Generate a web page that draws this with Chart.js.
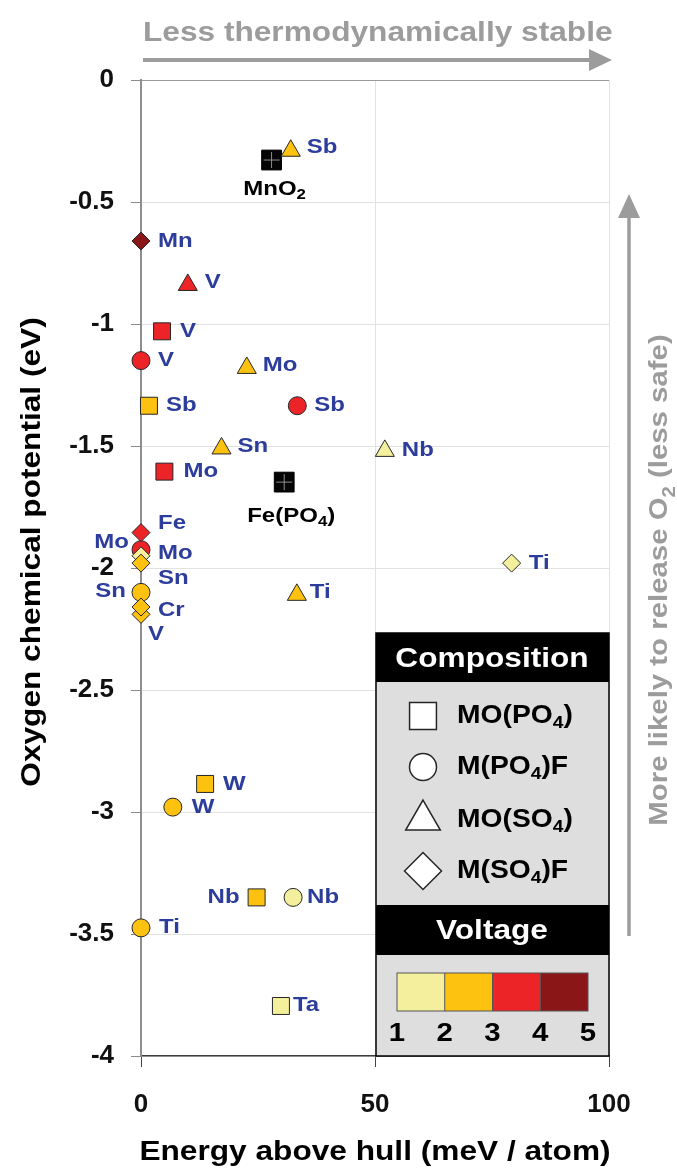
<!DOCTYPE html>
<html>
<head>
<meta charset="utf-8">
<script src="https://cdn.jsdelivr.net/npm/chart.js@4.4.1/dist/chart.umd.min.js"></script>
<style>
  html, body { margin: 0; padding: 0; background: #fff; }
  canvas { display: block; }
</style>
</head>
<body>
<canvas id="chart" width="677" height="1171"></canvas>
<script>
// Cathode candidates: substituted metal, energy above hull (meV/atom),
// oxygen chemical potential (eV), composition family and voltage band (lower bound, V).
const elements = [
  'Mn', 'Fe', 'Mo', 'Sn', 'V', 'Cr', 'Ti',          // M(SO4)F
  'Sb', 'V', 'Mo', 'Sn', 'Nb', 'Ti',                // MO(SO4)
  'V', 'Sb', 'Mo', 'Sn', 'W', 'Nb', 'Ti',           // M(PO4)F
  'V', 'Sb', 'Mo', 'W', 'Nb', 'Ta'                  // MO(PO4)
];
const hullEnergy = [
  0, 0, 0, 0, 0, 0, 79.2,
  32.0, 10.0, 22.6, 17.2, 52.1, 33.3,
  0, 33.4, 0, 0, 6.8, 32.5, 0,
  4.5, 1.7, 5.0, 13.7, 24.7, 29.9
];
const oxygenPotential = [
  -0.66, -1.855, -1.95, -1.98, -2.19, -2.16, -1.98,
  -0.29, -0.84, -1.18, -1.51, -1.52, -2.11,
  -1.15, -1.335, -1.925, -2.10, -2.98, -3.35, -3.475,
  -1.03, -1.335, -1.605, -2.885, -3.35, -3.795
];
const composition = [
  'M(SO_4)F', 'M(SO_4)F', 'M(SO_4)F', 'M(SO_4)F', 'M(SO_4)F', 'M(SO_4)F', 'M(SO_4)F',
  'MO(SO_4)', 'MO(SO_4)', 'MO(SO_4)', 'MO(SO_4)', 'MO(SO_4)', 'MO(SO_4)',
  'M(PO_4)F', 'M(PO_4)F', 'M(PO_4)F', 'M(PO_4)F', 'M(PO_4)F', 'M(PO_4)F', 'M(PO_4)F',
  'MO(PO_4)', 'MO(PO_4)', 'MO(PO_4)', 'MO(PO_4)', 'MO(PO_4)', 'MO(PO_4)'
];
const voltageBand = [
  4, 3, 1, 2, 2, 2, 1,
  2, 3, 2, 2, 1, 2,
  3, 3, 3, 2, 2, 1, 2,
  3, 2, 3, 2, 2, 1
];

// Reference cathodes
const referenceNames = ['MnO_2', 'Fe(PO_4)'];
const referenceHull = [27.9, 30.6];
const referencePotential = [-0.328, -1.648];

// Axis ticks and legend entries
const xTickValues = [0, 50, 100];
const yTickValues = [0, -0.5, -1, -1.5, -2, -2.5, -3, -3.5, -4];
const compositionLegend = ['MO(PO_4)', 'M(PO_4)F', 'MO(SO_4)', 'M(SO_4)F'];
const voltageTickLabels = ['1', '2', '3', '4', '5'];

// ---- styling ----
const FONT = "'Liberation Sans', Arial, Helvetica, sans-serif";
const LABEL_BLUE = '#2c3d9b';
const GREY_NOTE = '#9c9c9c';
const bandColors = { 1: '#f4ef9c', 2: '#fdc20f', 3: '#ec2428', 4: '#8a1618' };
const markerShape = { 'MO(PO_4)': 'rect', 'M(PO_4)F': 'circle', 'MO(SO_4)': 'triangle', 'M(SO_4)F': 'rectRot' };
const markerRadius = { rect: 12, circle: 9, triangle: 11, rectRot: 9 };

// label placement next to each marker: [dx, dy, align]
const labelOffset = [
  [17, 0, 'left'], [17, -9, 'left'], [17, -2, 'left'], [17, 15, 'left'], [7, 20, 'left'], [17, 3, 'left'], [17, 0, 'left'],
  [16, -3, 'left'], [17, -2, 'left'], [16, -2, 'left'], [16, -2, 'left'], [17, 0, 'left'], [13, -2, 'left'],
  [17, 0, 'left'], [17, 0, 'left'], [-12, -7, 'right'], [-15, -1, 'right'], [19, 0, 'left'], [14, 0, 'left'], [18, 0, 'left'],
  [18, 0, 'left'], [17, 0, 'left'], [19, 0, 'left'], [18, 1, 'left'], [-17, 0, 'right'], [12, 0, 'left']
];
const referenceLabelOffset = [[3, 29], [7, 34]];

// ---- text helper: bold text, "_x" renders x as subscript, optional horizontal stretch ----
function segments(text) {
  const out = []; let buf = '';
  for (let i = 0; i < text.length; i++) {
    if (text[i] === '_') { if (buf) out.push([buf, false]); buf = ''; out.push([text[i + 1], true]); i++; }
    else buf += text[i];
  }
  if (buf) out.push([buf, false]);
  return out;
}
function drawText(ctx, text, x, y, o) {
  const size = o.size, sx = o.sx || 1.13;
  const segs = segments(text);
  const fontFor = sub => `bold ${sub ? Math.round(size * 0.68) : size}px ${FONT}`;
  let w = 0;
  segs.forEach(([t, s]) => { ctx.font = fontFor(s); w += ctx.measureText(t).width; });
  ctx.save();
  ctx.translate(x, y);
  if (o.rotate) ctx.rotate(o.rotate);
  ctx.scale(sx, 1);
  let cx = o.align === 'center' ? -w / 2 : (o.align === 'right' ? -w : 0);
  ctx.fillStyle = o.color || '#000';
  ctx.textAlign = 'left';
  ctx.textBaseline = o.baseline || 'middle';
  segs.forEach(([t, s]) => {
    ctx.font = fontFor(s);
    ctx.fillText(t, cx, s ? size * 0.3 : 0);
    cx += ctx.measureText(t).width;
  });
  ctx.restore();
}

// ---- datasets: one per composition family, drawn so diamonds sit on top ----
const drawOrder = ['M(SO_4)F', 'MO(SO_4)', 'M(PO_4)F', 'MO(PO_4)'];
const familyDatasets = drawOrder.map(fam => {
  const idx = elements.map((_, i) => i).filter(i => composition[i] === fam);
  const shape = markerShape[fam];
  return {
    label: fam,
    data: idx.map(i => ({ x: hullEnergy[i], y: oxygenPotential[i] })),
    pointIndex: idx,
    clip: false,
    pointStyle: shape,
    pointRadius: markerRadius[shape],
    pointHoverRadius: markerRadius[shape],
    pointBackgroundColor: idx.map(i => bandColors[voltageBand[i]]),
    pointBorderColor: '#262626',
    pointBorderWidth: 1,
    showLine: false
  };
});
const referencePoints = referenceHull.map((x, i) => ({ x, y: referencePotential[i] }));
const referenceCross = {
  label: 'reference-cross',
  data: referencePoints,
  clip: false,
  pointStyle: 'cross',
  pointRadius: 8,
  pointHoverRadius: 8,
  pointBorderColor: '#8f8f8f',
  pointBorderWidth: 1,
  showLine: false
};
const referenceSquares = {
  label: 'reference',
  data: referencePoints,
  isReference: true,
  clip: false,
  pointStyle: 'rect',
  pointRadius: 14,
  pointHoverRadius: 14,
  pointBackgroundColor: '#050505',
  pointBorderColor: '#000',
  pointBorderWidth: 1,
  showLine: false
};
const datasets = [familyDatasets[0], familyDatasets[1], referenceCross, referenceSquares, familyDatasets[2], familyDatasets[3]];

// ---- plugins ----
const pointLabels = {
  id: 'pointLabels',
  afterDatasetsDraw(chart) {
    const ctx = chart.ctx;
    chart.data.datasets.forEach((ds, di) => {
      const meta = chart.getDatasetMeta(di);
      if (ds.pointIndex) {
        meta.data.forEach((pt, j) => {
          const i = ds.pointIndex[j];
          const [dx, dy, align] = labelOffset[i];
          drawText(ctx, elements[i], pt.x + dx, pt.y + dy, { size: 20, sx: 1.2, color: LABEL_BLUE, align });
        });
      } else if (ds.isReference) {
        meta.data.forEach((pt, j) => {
          const [dx, dy] = referenceLabelOffset[j];
          drawText(ctx, referenceNames[j], pt.x + dx, pt.y + dy, { size: 20, sx: 1.2, color: '#000', align: 'center' });
        });
      }
    });
  }
};

const decorations = {
  id: 'decorations',
  afterDraw(chart) {
    const ctx = chart.ctx;
    const area = chart.chartArea;

    // axis titles
    drawText(ctx, 'Energy above hull (meV / atom)', (area.left + area.right) / 2, 1160,
      { size: 28, color: '#000', align: 'center', baseline: 'alphabetic' });
    drawText(ctx, 'Oxygen chemical potential (eV)', 40, 552,
      { size: 28, color: '#000', align: 'center', baseline: 'alphabetic', rotate: -Math.PI / 2 });

    // top arrow: stability direction
    drawText(ctx, 'Less thermodynamically stable', 143, 41,
      { size: 28, color: GREY_NOTE, align: 'left', baseline: 'alphabetic' });
    ctx.save();
    ctx.strokeStyle = GREY_NOTE; ctx.fillStyle = GREY_NOTE; ctx.lineWidth = 4;
    ctx.beginPath(); ctx.moveTo(143, 60); ctx.lineTo(592, 60); ctx.stroke();
    ctx.beginPath(); ctx.moveTo(612, 60); ctx.lineTo(589, 49); ctx.lineTo(589, 71); ctx.closePath(); ctx.fill();

    // right arrow: O2 release direction
    ctx.lineWidth = 3.5;
    ctx.beginPath(); ctx.moveTo(629, 936); ctx.lineTo(629, 214); ctx.stroke();
    ctx.beginPath(); ctx.moveTo(629, 194); ctx.lineTo(618, 218); ctx.lineTo(640, 218); ctx.closePath(); ctx.fill();
    ctx.restore();
    drawText(ctx, 'More likely to release O_2 (less safe)', 667, 580,
      { size: 26, color: GREY_NOTE, align: 'center', baseline: 'alphabetic', rotate: -Math.PI / 2 });

    // legend panel
    const L = 376, R = 609, T = 633, B = 1056;
    ctx.save();
    ctx.fillStyle = '#dedede';
    ctx.fillRect(L, T, R - L, B - T);
    ctx.fillStyle = '#000';
    ctx.fillRect(L, T, R - L, 49);
    ctx.fillRect(L, 905, R - L, 50);
    ctx.strokeStyle = '#000'; ctx.lineWidth = 1.5;
    ctx.strokeRect(L, T, R - L, B - T);
    ctx.restore();
    drawText(ctx, 'Composition', 492, 659, { size: 28, color: '#fff', align: 'center' });
    drawText(ctx, 'Voltage', 492, 931, { size: 28, color: '#fff', align: 'center' });

    const iconShape = ['rect', 'circle', 'triangle', 'rectRot'];
    const iconRadius = [19, 13.5, 20, 18.5];
    const rowY = [716, 767, 820, 871];
    compositionLegend.forEach((name, k) => {
      ctx.save();
      ctx.fillStyle = '#fff'; ctx.strokeStyle = '#262626'; ctx.lineWidth = 1.5;
      Chart.helpers.drawPoint(ctx, { pointStyle: iconShape[k], radius: iconRadius[k], rotation: 0, borderWidth: 1.5 }, 423, rowY[k]);
      ctx.restore();
      drawText(ctx, name, 457, rowY[k], { size: 25, color: '#000', align: 'left' });
    });

    // voltage colour bar
    const barL = 397, barR = 588, barT = 973, barB = 1011;
    const cell = (barR - barL) / 4;
    ctx.save();
    [1, 2, 3, 4].forEach((b, k) => {
      ctx.fillStyle = bandColors[b];
      ctx.fillRect(barL + k * cell, barT, cell, barB - barT);
    });
    ctx.strokeStyle = '#555'; ctx.lineWidth = 1;
    for (let k = 1; k < 4; k++) {
      ctx.beginPath(); ctx.moveTo(barL + k * cell, barT); ctx.lineTo(barL + k * cell, barB); ctx.stroke();
    }
    ctx.strokeRect(barL, barT, barR - barL, barB - barT);
    ctx.restore();
    voltageTickLabels.forEach((t, k) => {
      drawText(ctx, t, barL + k * cell, 1034, { size: 26, color: '#000', align: 'center' });
    });
  }
};

new Chart(document.getElementById('chart'), {
  type: 'scatter',
  data: { datasets },
  options: {
    responsive: false,
    devicePixelRatio: 1,
    animation: false,
    events: [],
    layout: { padding: { top: 80, right: 68, left: 0, bottom: 0 } },
    plugins: { legend: { display: false }, tooltip: { enabled: false } },
    scales: {
      x: {
        type: 'linear', min: 0, max: 100,
        afterBuildTicks: s => { s.ticks = xTickValues.map(v => ({ value: v })); },
        afterFit: s => { s.height = 115; },
        ticks: { color: '#111', font: { family: FONT, size: 26, weight: 'bold' }, padding: 22, callback: v => String(v) },
        grid: {
          color: c => (c.tick && c.tick.value === 0) ? 'rgba(0,0,0,0)' : '#e2e2e2',
          tickColor: '#444', tickLength: 11, lineWidth: 1
        },
        border: { display: true, color: '#3c3c3c', width: 1.5 }
      },
      y: {
        type: 'linear', min: -4, max: 0,
        afterBuildTicks: s => { s.ticks = yTickValues.map(v => ({ value: v })); },
        afterFit: s => { s.width = 141; },
        ticks: { color: '#111', font: { family: FONT, size: 26, weight: 'bold' }, padding: 17, callback: v => (v === 0 ? '0' : String(v)) },
        grid: {
          color: c => (c.tick && c.tick.value === 0) ? '#9a9a9a' : '#e2e2e2',
          tickColor: '#8a8a8a', tickLength: 10, lineWidth: 1
        },
        border: { display: true, color: '#8e8e8e', width: 2 }
      }
    }
  },
  plugins: [pointLabels, decorations]
});
</script>
</body>
</html>
